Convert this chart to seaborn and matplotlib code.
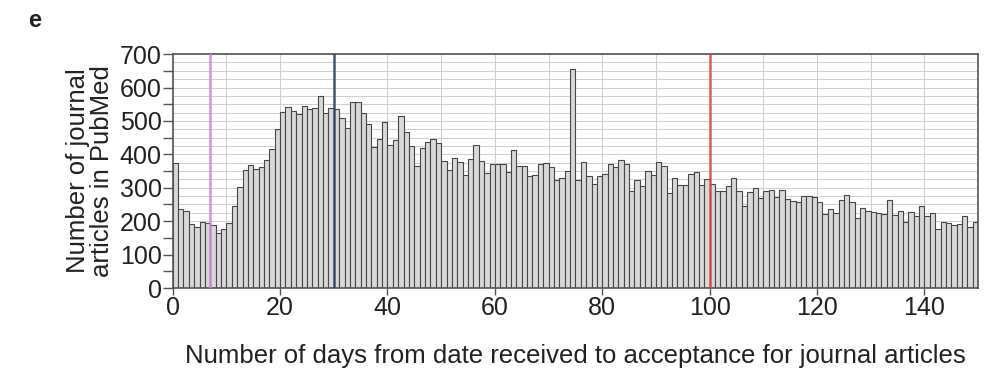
import numpy as np
import pandas as pd
import matplotlib
matplotlib.use("Agg")
import matplotlib.pyplot as plt
import seaborn as sns
from matplotlib.ticker import MultipleLocator, FuncFormatter

# dias (0..149) e contagens
days = np.arange(150)
counts = [
    373, 237, 232, 191, 184, 199, 196, 190, 164, 177,
    195, 244, 302, 353, 367, 355, 363, 383, 415, 475,
    527, 541, 530, 520, 545, 535, 538, 575, 523, 538,
    537, 509, 479, 557, 557, 524, 491, 422, 446, 497,
    429, 442, 516, 466, 424, 366, 419, 437, 446, 434,
    379, 354, 389, 376, 339, 387, 427, 381, 344, 371,
    371, 371, 346, 412, 366, 366, 334, 339, 371, 374,
    361, 324, 329, 351, 656, 322, 376, 334, 312, 334,
    341, 371, 361, 382, 371, 289, 324, 304, 349, 339,
    376, 364, 284, 329, 307, 307, 341, 348, 307, 326,
    312, 290, 290, 304, 328, 291, 244, 286, 300, 270,
    289, 294, 272, 292, 266, 261, 257, 274, 274, 272,
    256, 222, 236, 226, 262, 279, 256, 209, 239, 231,
    227, 224, 222, 264, 219, 232, 199, 229, 216, 244,
    216, 226, 176, 197, 194, 189, 191, 216, 182, 199,
]
marker_days = [7, 30, 100]
marker_colors = ["#c98ad8", "#2b4764", "#e0484c"]
x_ticks = [0, 20, 40, 60, 80, 100, 120, 140]

df = pd.DataFrame({"day": days + 0.5, "count": counts})

sns.set_style("white")
plt.rcParams["font.family"] = ["Liberation Sans", "DejaVu Sans"]

fig = plt.figure(figsize=(9.87, 3.76), dpi=100)
ax = fig.add_axes([0.175, 0.234, 0.816, 0.622])

ax.set_axisbelow(True)

sns.histplot(data=df, x="day", weights="count", binwidth=1, binrange=(0, 150),
             ax=ax, color="#d8d8d8", edgecolor="#474747", linewidth=0.8, alpha=1)

for d, c in zip(marker_days, marker_colors):
    ax.axvline(d, color=c, linewidth=1.8, alpha=0.9, zorder=5)

ax.set_xlim(0, 150)
ax.set_ylim(0, 700)
ax.set_xticks(x_ticks)
ax.xaxis.set_minor_locator(MultipleLocator(10))
ax.yaxis.set_major_locator(MultipleLocator(50))
ax.yaxis.set_minor_locator(MultipleLocator(25))
ax.yaxis.set_major_formatter(FuncFormatter(lambda v, p: f"{v:.0f}" if v % 100 == 0 else ""))
ax.grid(True, which="both", color="#cfcfcf", linewidth=0.7)

ax.tick_params(axis="y", which="major", labelsize=18, length=7, width=1,
               color="#555555", labelcolor="#222222", pad=1, left=True)
ax.tick_params(axis="x", which="major", labelsize=18, length=5, width=1,
               color="#555555", labelcolor="#222222", pad=1, bottom=True)
ax.tick_params(axis="both", which="minor", length=0)

for s in ax.spines.values():
    s.set_visible(True)
    s.set_color("#555555")
    s.set_linewidth(1.2)

ax.set_xlabel("Number of days from date received to acceptance for journal articles",
              fontsize=18.5, color="#222222", labelpad=17)
ax.set_ylabel("Number of journal\narticles in PubMed", fontsize=18.5,
              color="#222222", labelpad=4, linespacing=1.0)

fig.text(0.028, 0.945, "e", fontsize=17, fontweight="bold", color="#222222",
         va="center")

fig.savefig("out.png", dpi=100)
